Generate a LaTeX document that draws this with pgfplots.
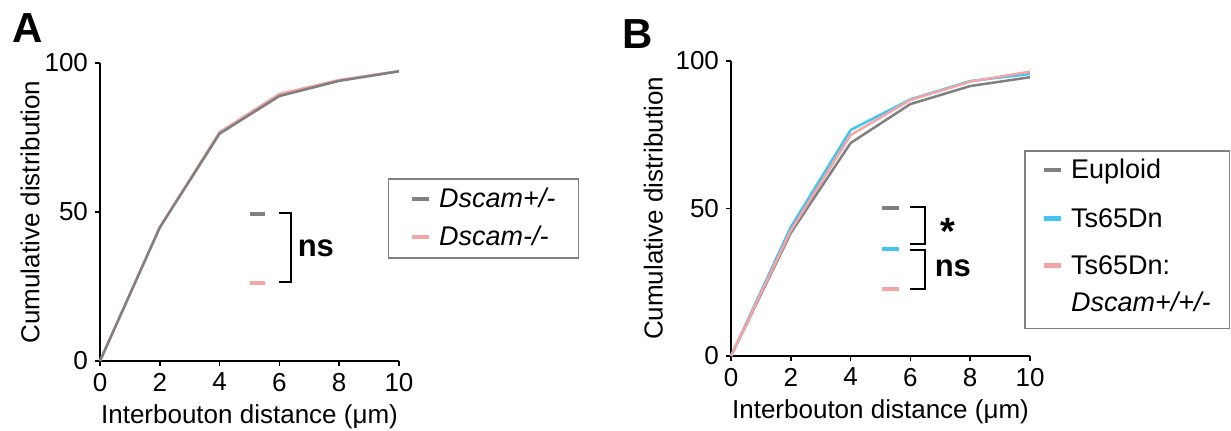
\documentclass[border=0pt]{standalone}
\usepackage{fontspec}
\setmainfont{Liberation Sans}
\usepackage{pgfplots}
\pgfplotsset{compat=1.18}
\definecolor{cGray}{HTML}{808080}
\definecolor{cPink}{HTML}{F4A4A4}
\definecolor{cBlue}{HTML}{40C4F0}
\newcommand\ls{\rule[-1.5pt]{0pt}{11.5pt}}
\newcommand\labfont{\fontsize{13}{15}\selectfont}

\pgfplotsset{
  panel/.style={
    scale only axis,
    width=149.5pt, height=149pt,
    xmin=0, xmax=10, ymin=0, ymax=100,
    axis lines=left,
    axis line style={-, black, line width=0.75pt},
    xtick={0,2,4,6,8,10}, ytick={0,50,100},
    tick align=outside, major tick length=2.5pt,
    tick style={black, line width=0.75pt},
    /pgf/number format/assume math mode=true,
    tick label style={font=\labfont},
    xlabel={Interbouton distance (μm)},
    ylabel={Cumulative distribution},
    every axis x label/.style={at={(rel axis cs:0.5,-0.188)}, anchor=center, font=\labfont},
    every axis y label/.style={at={(rel axis cs:-0.234,0.5)}, rotate=90, anchor=center, font=\labfont},
    clip=false,
    legend image code/.code={\draw[line width=2.2pt] (0pt,4.5pt) -- (8.5pt,4.5pt);},
    legend style={draw=cGray, line width=0.75pt, fill=white,
      font=\fontsize{13.5}{15}\selectfont,
      cells={anchor=base west},
      nodes={inner sep=1pt, text depth=},
      /tikz/every odd column/.style={column sep=3pt}},
  },
  curve/.style={line width=1.25pt, forget plot},
}

\begin{document}
\begin{tikzpicture}
\useasboundingbox (0,0) rectangle (615.5pt,215.5pt);

% panel A
\begin{axis}[panel, at={(50pt,35pt)}, anchor=south west,
  legend style={at={(0.963,0.614)}, anchor=north west,
    inner xsep=10.5pt, inner ysep=3.5pt, row sep=5.5pt}]
  \addplot[curve, cPink] coordinates {(0,0) (2,44.9) (4,76.8) (6,89.6) (8,94.3) (10,97.3)};
  \addplot[curve, cGray] coordinates {(0,0) (2,44.8) (4,76.3) (6,88.9) (8,94.0) (10,97.2)};
  \addlegendimage{cGray}
  \addlegendentry{\ls\textit{Dscam+/-}}
  \addlegendimage{cPink}
  \addlegendentry{\ls\textit{Dscam-/-}}
  % significance
  \draw[cGray, line width=2.2pt] (5.02,49.3) -- (5.52,49.3);
  \draw[cPink, line width=2.2pt] (5.02,26.2) -- (5.52,26.2);
  \draw[black, line width=1pt] (5.98,49.7) -- (6.39,49.7) -- (6.39,26.5) -- (5.98,26.5);
  \node[font=\bfseries\fontsize{15.5}{16}\selectfont] at (7.22,37.9) {ns};
\end{axis}

% panel B
\begin{axis}[panel, at={(365.5pt,37.5pt)}, anchor=south west,
  height=147.5pt,
  every axis y label/.style={at={(rel axis cs:-0.26,0.5)}, rotate=90, anchor=center, font=\labfont},
  every axis x label/.style={at={(rel axis cs:0.5,-0.19)}, anchor=center, font=\labfont},
  legend style={at={(0.98,0.698)}, anchor=north west,
    inner xsep=8.5pt, inner ysep=3pt, row sep=9.5pt}]
  \addplot[curve, cGray] coordinates {(0,0) (2,41.7) (4,72.2) (6,85.4) (8,91.5) (10,94.5)};
  \addplot[curve, cBlue] coordinates {(0,0) (2,43.7) (4,76.6) (6,87.0) (8,93.2) (10,95.6)};
  \addplot[curve, cPink] coordinates {(0,0) (2,42.5) (4,74.9) (6,86.8) (8,93.0) (10,96.4)};
  \addlegendimage{cGray}
  \addlegendentry{\ls Euploid}
  \addlegendimage{cBlue}
  \addlegendentry{\ls Ts65Dn}
  \addlegendimage{cPink}
  \addlegendentry{\begin{tabular}[t]{@{}l@{}}\ls Ts65Dn:\\[3.5pt]\ls\textit{Dscam+/+/-}\end{tabular}}
  % significance
  \draw[cGray, line width=2.2pt] (5.05,50.2) -- (5.62,50.2);
  \draw[cBlue, line width=2.2pt] (5.05,36.3) -- (5.62,36.3);
  \draw[cPink, line width=2.2pt] (5.05,22.7) -- (5.62,22.7);
  \draw[black, line width=1pt] (5.99,50.5) -- (6.49,50.5) -- (6.49,38.0) -- (5.99,38.0);
  \draw[black, line width=1pt] (5.99,35.9) -- (6.49,35.9) -- (6.49,22.7) -- (5.99,22.7);
  \node[font=\bfseries\fontsize{19}{19}\selectfont, inner sep=0pt] at (7.26,42.2) {*};
  \node[font=\bfseries\fontsize{15.5}{16}\selectfont, inner sep=1pt] at (7.42,29.8) {ns};
\end{axis}

\node[font=\bfseries\fontsize{21}{21}\selectfont] at (13.75pt,201.5pt) {A};
\node[font=\bfseries\fontsize{21}{21}\selectfont] at (319pt,198.5pt) {B};
\end{tikzpicture}
\end{document}
